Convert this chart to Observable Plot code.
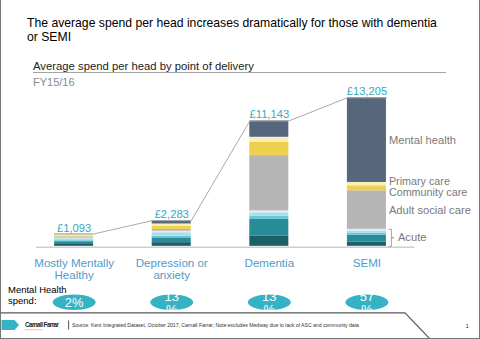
<!DOCTYPE html>
<html>
<head>
<meta charset="utf-8">
<script src="https://cdn.jsdelivr.net/npm/d3@7"></script>
<script src="https://cdn.jsdelivr.net/npm/@observablehq/plot@0.6"></script>
<style>
  html, body { margin: 0; padding: 0; background: #fff; }
  #slide { position: relative; width: 480px; height: 339px; overflow: hidden; box-sizing: border-box;
    border-left: 1.5px solid #777; border-right: 1.5px solid #777; border-bottom: 1.5px solid #777;
    font-family: "Liberation Sans", Arial, Helvetica, sans-serif; }
  .abs { position: absolute; white-space: nowrap; }
  #title { left: 26px; top: 16.3px; font-size: 12.2px; line-height: 14px; color: #000; }
  #subtitle { left: 32px; top: 60px; font-size: 11.3px; line-height: 13px; color: #222; }
  #rule { left: 32px; top: 71.5px; width: 413px; height: 0; border-top: 1.5px solid #a3a3a3; }
  #fy { left: 32px; top: 75.9px; font-size: 11px; line-height: 13px; color: #8a8a8a; }
  #chart { left: -1.5px; top: 80px; }
  #mhs { left: 7px; top: 283.7px; font-size: 9.5px; line-height: 11px; color: #000; }
  #footer { left: -1.5px; top: 0; }
</style>
</head>
<body>
<div id="slide">
  <div id="title" class="abs">The average spend per head increases dramatically for those with dementia<br>or SEMI</div>
  <div id="subtitle" class="abs">Average spend per head by point of delivery</div>
  <div id="rule" class="abs"></div>
  <div id="fy" class="abs">FY15/16</div>
  <div id="chart" class="abs"></div>
  <div id="mhs" class="abs">Mental Health<br>spend:</div>
  <svg id="footer" class="abs" width="480" height="339" style="pointer-events:none">
    <path d="M0,312.8 H405 L430,339" fill="none" stroke="#5a5a5a" stroke-width="1.2"/>
    <path d="M1.5,320 H14.5 L19,325 L14.5,330 H1.5 Z" fill="#35b2c3"/>
    <text x="25" y="327" font-size="6.3" font-weight="bold" fill="#222" textLength="34" font-family="Liberation Sans, Arial, sans-serif">Carnall Farrar</text>
    <path d="M25,329.8 L42,329.8" stroke="#e04040" stroke-width="0.6" stroke-dasharray="1,0.6"/>
    <path d="M68.6,320.5 V329.5" stroke="#444" stroke-width="0.9"/>
    <text x="72" y="326.8" font-size="5.2" fill="#333" textLength="287" font-family="Liberation Sans, Arial, sans-serif">Source: Kent Integrated Dataset, October 2017, Carnall Farrar; Note:excludes Medway due to lack of ASC and community data</text>
    <text x="465.5" y="328" font-size="6" fill="#333" font-family="Liberation Sans, Arial, sans-serif">1</text>
  </svg>
</div>
<script>
// ---- Data ----
const categories = ["Mostly Mentally\nHealthy", "Depression or\nanxiety", "Dementia", "SEMI"];
const series = ["Acute (non-elective)", "Acute (elective)", "Acute (outpatient)", "Acute (A&E)", "Acute (other)",
                "Adult social care", "Community care", "Primary care", "Mental health"];
const acuteNonElective = [161, 326, 892, 385];
const acuteElective    = [250, 425, 1490, 595];
const acuteOutpatient  = [90, 160, 297, 205];
const acuteAE          = [170, 295, 297, 178];
const acuteOther       = [60, 135, 178, 150];
const adultSocialCare  = [100, 160, 4908, 3422];
const communityCare    = [90, 270, 1186, 446];
const primaryCare      = [150, 215, 446, 297];
const mentalHealth     = [22, 297, 1449, 7527];
const totals           = [1093, 2283, 11143, 13205];
const mhSharePct       = [2, 13, 13, 57];

const seriesValues = [acuteNonElective, acuteElective, acuteOutpatient, acuteAE, acuteOther,
                      adultSocialCare, communityCare, primaryCare, mentalHealth];
const colors = ["#1d5f69", "#288b98", "#6cc6d6", "#a9dfe8", "#d9f0f4",
                "#b5b5b5", "#edd04f", "#fbedb8", "#56677d"];

// ---- Build tables ----
const stacked = [];
categories.forEach((c, i) => {
  let acc = 0;
  series.forEach((s, k) => {
    const v = seriesValues[k][i];
    stacked.push({i, s, y1: acc, y2: acc + v});
    acc += v;
  });
});
const hw = 0.2; // half bar width in x units
const linePts = totals.flatMap((t, i) => [{x: i - hw, y: t}, {x: i + hw, y: t}]);
const totalRows = totals.map((t, i) => ({i, t}));
const shareRows = mhSharePct.map((p, i) => ({i, p}));
const catRows = categories.map((c, i) => ({i, c}));

// right-hand labels, positioned at the middle of the SEMI segments
const last = categories.length - 1;
const seg = name => stacked.find(d => d.i === last && d.s === name);
const mid = d => (d.y1 + d.y2) / 2;
const acuteTop = seg("Acute (other)").y2;
const labelMH  = [{t: "Mental health", y: mid(seg("Mental health"))}, {t: "Adult social care", y: mid(seg("Adult social care"))}];
const labelPC  = [{t: "Primary care", y: mid(seg("Primary care"))}];
const labelCC  = [{t: "Community care", y: mid(seg("Community care"))}];
const labelAc  = [{t: "Acute", y: acuteTop / 2}];

const pxPerUnit = (366.8 - 73.7) / 3;
const u = px => px / pxPerUnit;
const bracket = [
  {x: last + u(22), y: acuteTop}, {x: last + u(24.5), y: acuteTop},
  {x: last + u(24.5), y: acuteTop / 2 + 0.0001}, {x: last + u(27), y: acuteTop / 2},
  {x: last + u(24.5), y: acuteTop / 2 - 0.0001}, {x: last + u(24.5), y: 0},
  {x: last + u(22), y: 0}
];

const ellipse = {
  draw(ctx, size) {
    const r = Math.sqrt(size / Math.PI), rx = r, ry = r * 0.36, k = 0.5523;
    ctx.moveTo(rx, 0);
    ctx.bezierCurveTo(rx, ry * k, rx * k, ry, 0, ry);
    ctx.bezierCurveTo(-rx * k, ry, -rx, ry * k, -rx, 0);
    ctx.bezierCurveTo(-rx, -ry * k, -rx * k, -ry, 0, -ry);
    ctx.bezierCurveTo(rx * k, -ry, rx, -ry * k, rx, 0);
    ctx.closePath();
  }
};

const font = "Liberation Sans, Arial, Helvetica, sans-serif";
const chart = Plot.plot({
  width: 480,
  height: 233,
  marginTop: 17.3,
  marginBottom: 67,
  marginLeft: 73.7,
  marginRight: 113.2,
  x: {domain: [0, 3], axis: null},
  y: {domain: [0, 13205], axis: null},
  color: {domain: series, range: colors},
  style: {fontFamily: font, overflow: "visible", background: "transparent"},
  marks: [
    Plot.rect(stacked, {x1: d => d.i - hw, x2: d => d.i + hw, y1: "y1", y2: "y2", fill: "s"}),
    Plot.ruleY([0], {x1: u(36 - 73.7), x2: 3 + u(415 - 366.8), stroke: "#cfcfcf", strokeWidth: 1.5, dy: 1}),
    Plot.line(linePts, {x: "x", y: "y", stroke: "#a9a9a9", strokeWidth: 1}),
    Plot.text(totalRows, {x: "i", y: "t", text: d => "£" + d3.format(",")(d.t), lineAnchor: "bottom", dy: -2.5,
      fill: "#35a9be", fontSize: 11.2}),
    Plot.text(catRows, {x: "i", text: "c", frameAnchor: "bottom", lineAnchor: "top", dy: 12, lineHeight: 1.02,
      fill: "#4f9cc8", fontSize: 11.6}),
    Plot.text(labelMH, {x: last, y: "y", text: "t", textAnchor: "start", dx: 22, fill: "#7a7a7a", fontSize: 11.2}),
    Plot.text(labelPC, {x: last, y: "y", text: "t", textAnchor: "start", dx: 22, dy: -2.6, fill: "#7a7a7a", fontSize: 10.8}),
    Plot.text(labelCC, {x: last, y: "y", text: "t", textAnchor: "start", dx: 22, dy: 4.3, fill: "#7a7a7a", fontSize: 10.8}),
    Plot.text(labelAc, {x: last, y: "y", text: "t", textAnchor: "start", dx: 31, fill: "#7a7a7a", fontSize: 11.2}),
    Plot.line(bracket, {x: "x", y: "y", stroke: "#9a9a9a", strokeWidth: 0.9}),
    Plot.dot(shareRows, {x: "i", frameAnchor: "bottom", dy: 56, r: 21.5, symbol: ellipse, fill: "#35b2c3", stroke: null}),
    Plot.text(shareRows, {x: "i", frameAnchor: "bottom", dy: 56.7, text: d => d.p < 10 ? d.p + "%" : d.p + "\n%",
      lineAnchor: "middle", lineHeight: 1.0, fill: "#fff", fontSize: 13})
  ]
});
document.getElementById("chart").appendChild(chart);
</script>
</body>
</html>
